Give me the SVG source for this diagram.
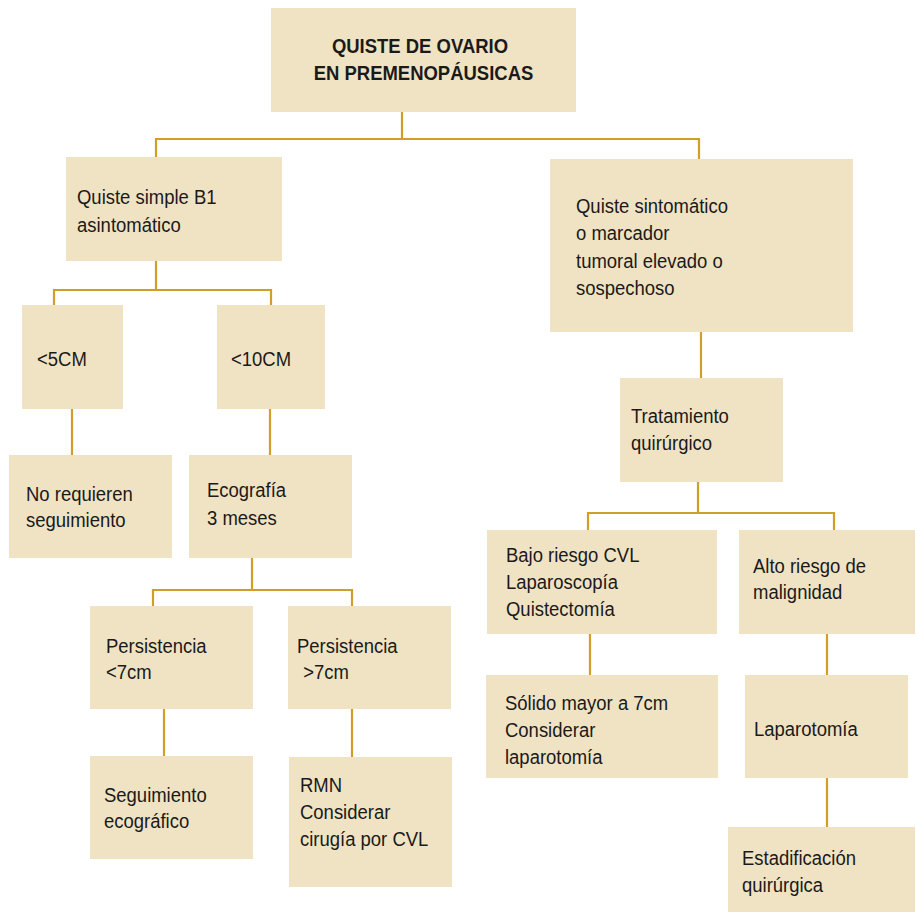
<svg xmlns="http://www.w3.org/2000/svg" width="917" height="912" viewBox="0 0 917 912">
  <style>
    .box { fill: #F0E3C3; }
    .lbl { font-family: "Liberation Sans", Arial, sans-serif; font-size: 21px; fill: #1a1a1a; }
    .title { font-weight: bold; text-anchor: middle; }
    .links path { fill: none; stroke: #D19E2A; stroke-width: 2.2; }
  </style>

  <rect width="917" height="912" fill="#ffffff"/>

  <!-- connectors -->
  <g class="links">
    <path d="M402 112 V139 M156 157 V139 H699 V159"/>
    <path d="M156 261 V290 M54 305 V290 H271 V305"/>
    <path d="M72 409 V455 M270 409 V455"/>
    <path d="M252 558 V590 M153 606 V590 H352 V606"/>
    <path d="M164 709 V756 M352 709 V757"/>
    <path d="M701 332 V378"/>
    <path d="M698 482 V513 M588 530 V513 H834 V530"/>
    <path d="M590 634 V675 M827 634 V675 M827 778 V827"/>
  </g>

  <!-- root -->
  <g id="n-root">
    <rect class="box" x="271" y="8" width="305" height="104"/>
    <text class="lbl title" transform="translate(423.5 53) scale(0.88 1)"><tspan x="-4">QUISTE DE OVARIO</tspan><tspan x="0" y="27">EN PREMENOPÁUSICAS</tspan></text>
  </g>

  <g id="n-simple">
    <rect class="box" x="66" y="157" width="216" height="104"/>
    <text class="lbl" transform="translate(77 204) scale(0.88 1)"><tspan x="0">Quiste simple B1</tspan><tspan x="0" y="28">asintomático</tspan></text>
  </g>

  <g id="n-sintomatico">
    <rect class="box" x="550" y="159" width="303" height="173"/>
    <text class="lbl" transform="translate(576 213) scale(0.88 1)"><tspan x="0">Quiste sintomático</tspan><tspan x="0" y="27.5">o marcador</tspan><tspan x="0" y="55">tumoral elevado o</tspan><tspan x="0" y="82">sospechoso</tspan></text>
  </g>

  <g id="n-5cm">
    <rect class="box" x="22" y="305" width="101" height="104"/>
    <text class="lbl" transform="translate(37 366) scale(0.88 1)">&lt;5CM</text>
  </g>

  <g id="n-10cm">
    <rect class="box" x="217" y="305" width="108" height="104"/>
    <text class="lbl" transform="translate(231 366) scale(0.88 1)">&lt;10CM</text>
  </g>

  <g id="n-no-seguimiento">
    <rect class="box" x="9" y="455" width="163" height="103"/>
    <text class="lbl" transform="translate(26 501) scale(0.88 1)"><tspan x="0">No requieren</tspan><tspan x="0" y="26.5">seguimiento</tspan></text>
  </g>

  <g id="n-ecografia">
    <rect class="box" x="189" y="455" width="163" height="103"/>
    <text class="lbl" transform="translate(207 497) scale(0.88 1)"><tspan x="0">Ecografía</tspan><tspan x="0" y="28">3 meses</tspan></text>
  </g>

  <g id="n-pers-menor">
    <rect class="box" x="90" y="606" width="163" height="103"/>
    <text class="lbl" transform="translate(106 653) scale(0.88 1)"><tspan x="0">Persistencia</tspan><tspan x="0" y="26.5">&lt;7cm</tspan></text>
  </g>

  <g id="n-pers-mayor">
    <rect class="box" x="288" y="606" width="163" height="103"/>
    <text class="lbl" transform="translate(297 653) scale(0.88 1)"><tspan x="0">Persistencia</tspan><tspan x="7" y="26.5">&gt;7cm</tspan></text>
  </g>

  <g id="n-seguimiento-eco">
    <rect class="box" x="90" y="756" width="163" height="103"/>
    <text class="lbl" transform="translate(104 802) scale(0.88 1)"><tspan x="0">Seguimiento</tspan><tspan x="0" y="26.5">ecográfico</tspan></text>
  </g>

  <g id="n-rmn">
    <rect class="box" x="289" y="757" width="163" height="130"/>
    <text class="lbl" transform="translate(300 792) scale(0.88 1)"><tspan x="0">RMN</tspan><tspan x="0" y="27">Considerar</tspan><tspan x="0" y="54">cirugía por CVL</tspan></text>
  </g>

  <g id="n-tratamiento">
    <rect class="box" x="620" y="378" width="163" height="104"/>
    <text class="lbl" transform="translate(631 423) scale(0.88 1)"><tspan x="0">Tratamiento</tspan><tspan x="0" y="27">quirúrgico</tspan></text>
  </g>

  <g id="n-bajo-riesgo">
    <rect class="box" x="487" y="530" width="230" height="104"/>
    <text class="lbl" transform="translate(506 562) scale(0.88 1)"><tspan x="0">Bajo riesgo CVL</tspan><tspan x="0" y="27">Laparoscopía</tspan><tspan x="0" y="54">Quistectomía</tspan></text>
  </g>

  <g id="n-alto-riesgo">
    <rect class="box" x="739" y="530" width="176" height="104"/>
    <text class="lbl" transform="translate(753 573) scale(0.88 1)"><tspan x="0">Alto riesgo de</tspan><tspan x="0" y="26.5">malignidad</tspan></text>
  </g>

  <g id="n-solido">
    <rect class="box" x="486" y="675" width="232" height="103"/>
    <text class="lbl" transform="translate(505 710) scale(0.88 1)"><tspan x="0">Sólido mayor a 7cm</tspan><tspan x="0" y="27">Considerar</tspan><tspan x="0" y="54">laparotomía</tspan></text>
  </g>

  <g id="n-laparotomia">
    <rect class="box" x="745" y="675" width="163" height="103"/>
    <text class="lbl" transform="translate(754 736) scale(0.88 1)">Laparotomía</text>
  </g>

  <g id="n-estadificacion">
    <rect class="box" x="728" y="827" width="187" height="85"/>
    <text class="lbl" transform="translate(742 865) scale(0.88 1)"><tspan x="0">Estadificación</tspan><tspan x="0" y="27">quirúrgica</tspan></text>
  </g>
</svg>
